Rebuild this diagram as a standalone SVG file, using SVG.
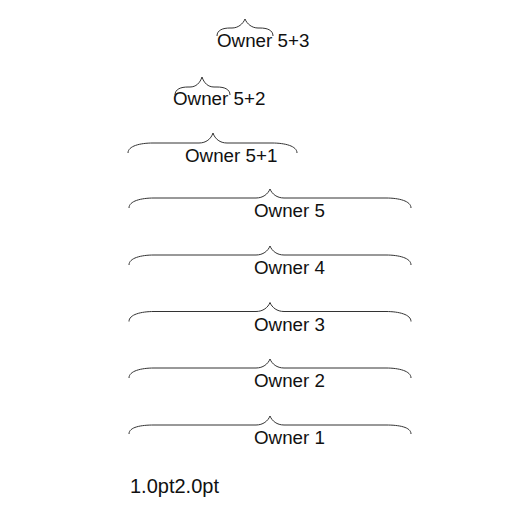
<svg xmlns="http://www.w3.org/2000/svg" width="512" height="512" viewBox="0 0 512 512">
<style>
.b{fill:none;stroke:#333;stroke-width:1}
.t{font-family:"Liberation Sans",Arial,sans-serif;font-size:18.8px;fill:#111}
</style>
<rect width="512" height="512" fill="#fff"/>
<g id="connectors">
<path class="b" d="M129,208 C129,201 141,198 154,198 L256,198 C263,198 268,194 270,189 C272,194 277,198 284,198 L386,198 C399,198 411,201 411,208"/>
<path class="b" d="M129,265 C129,258 141,255 154,255 L256,255 C263,255 268,251 270,246 C272,251 277,255 284,255 L386,255 C399,255 411,258 411,265"/>
<path class="b" d="M129,321.5 C129,314.5 141,311.5 154,311.5 L256,311.5 C263,311.5 268,307.5 270,302.5 C272,307.5 277,311.5 284,311.5 L386,311.5 C399,311.5 411,314.5 411,321.5"/>
<path class="b" d="M129,378 C129,371 141,368 154,368 L256,368 C263,368 268,364 270,359 C272,364 277,368 284,368 L386,368 C399,368 411,371 411,378"/>
<path class="b" d="M129,434 C129,427 141,425 154,425 L256,425 C263,425 268,421 270,416 C272,421 277,425 284,425 L386,425 C399,425 411,427 411,434"/>
<path class="b" d="M128,153 C128,146 140,143 153,143 L199,143 C206,143 211,139 213,133 C215,139 220,143 227,143 L272,143 C285,143 297,146 297,153"/>
<path class="b" d="M175,95 C175,89 181,87 188,87 L190,87 C196,87 200,83 202,77 C204,83 208,87 214,87 L217,87 C224,87 230,89 230,95"/>
<path class="b" d="M217,36 C217,30 223,28 230,28 L232,28 C238,28 243,24 245,19 C247,24 252,28 258,28 L260,28 C267,28 273,30 273,36"/>
</g>
<g id="owner5-3"><text class="t" x="217" y="47">Owner 5+3</text></g>
<g id="owner5-2"><text class="t" x="173" y="105">Owner 5+2</text></g>
<g id="owner5-1"><text class="t" x="185" y="162">Owner 5+1</text></g>
<g id="owner5"><text class="t" x="254" y="217">Owner 5</text></g>
<g id="owner4"><text class="t" x="254" y="274">Owner 4</text></g>
<g id="owner3"><text class="t" x="254" y="330.5">Owner 3</text></g>
<g id="owner2"><text class="t" x="254" y="387">Owner 2</text></g>
<g id="owner1"><text class="t" x="254" y="444">Owner 1</text></g>
<g id="legend"><text class="t" x="130" y="493" style="font-size:20px">1.0pt2.0pt</text></g>
</svg>
